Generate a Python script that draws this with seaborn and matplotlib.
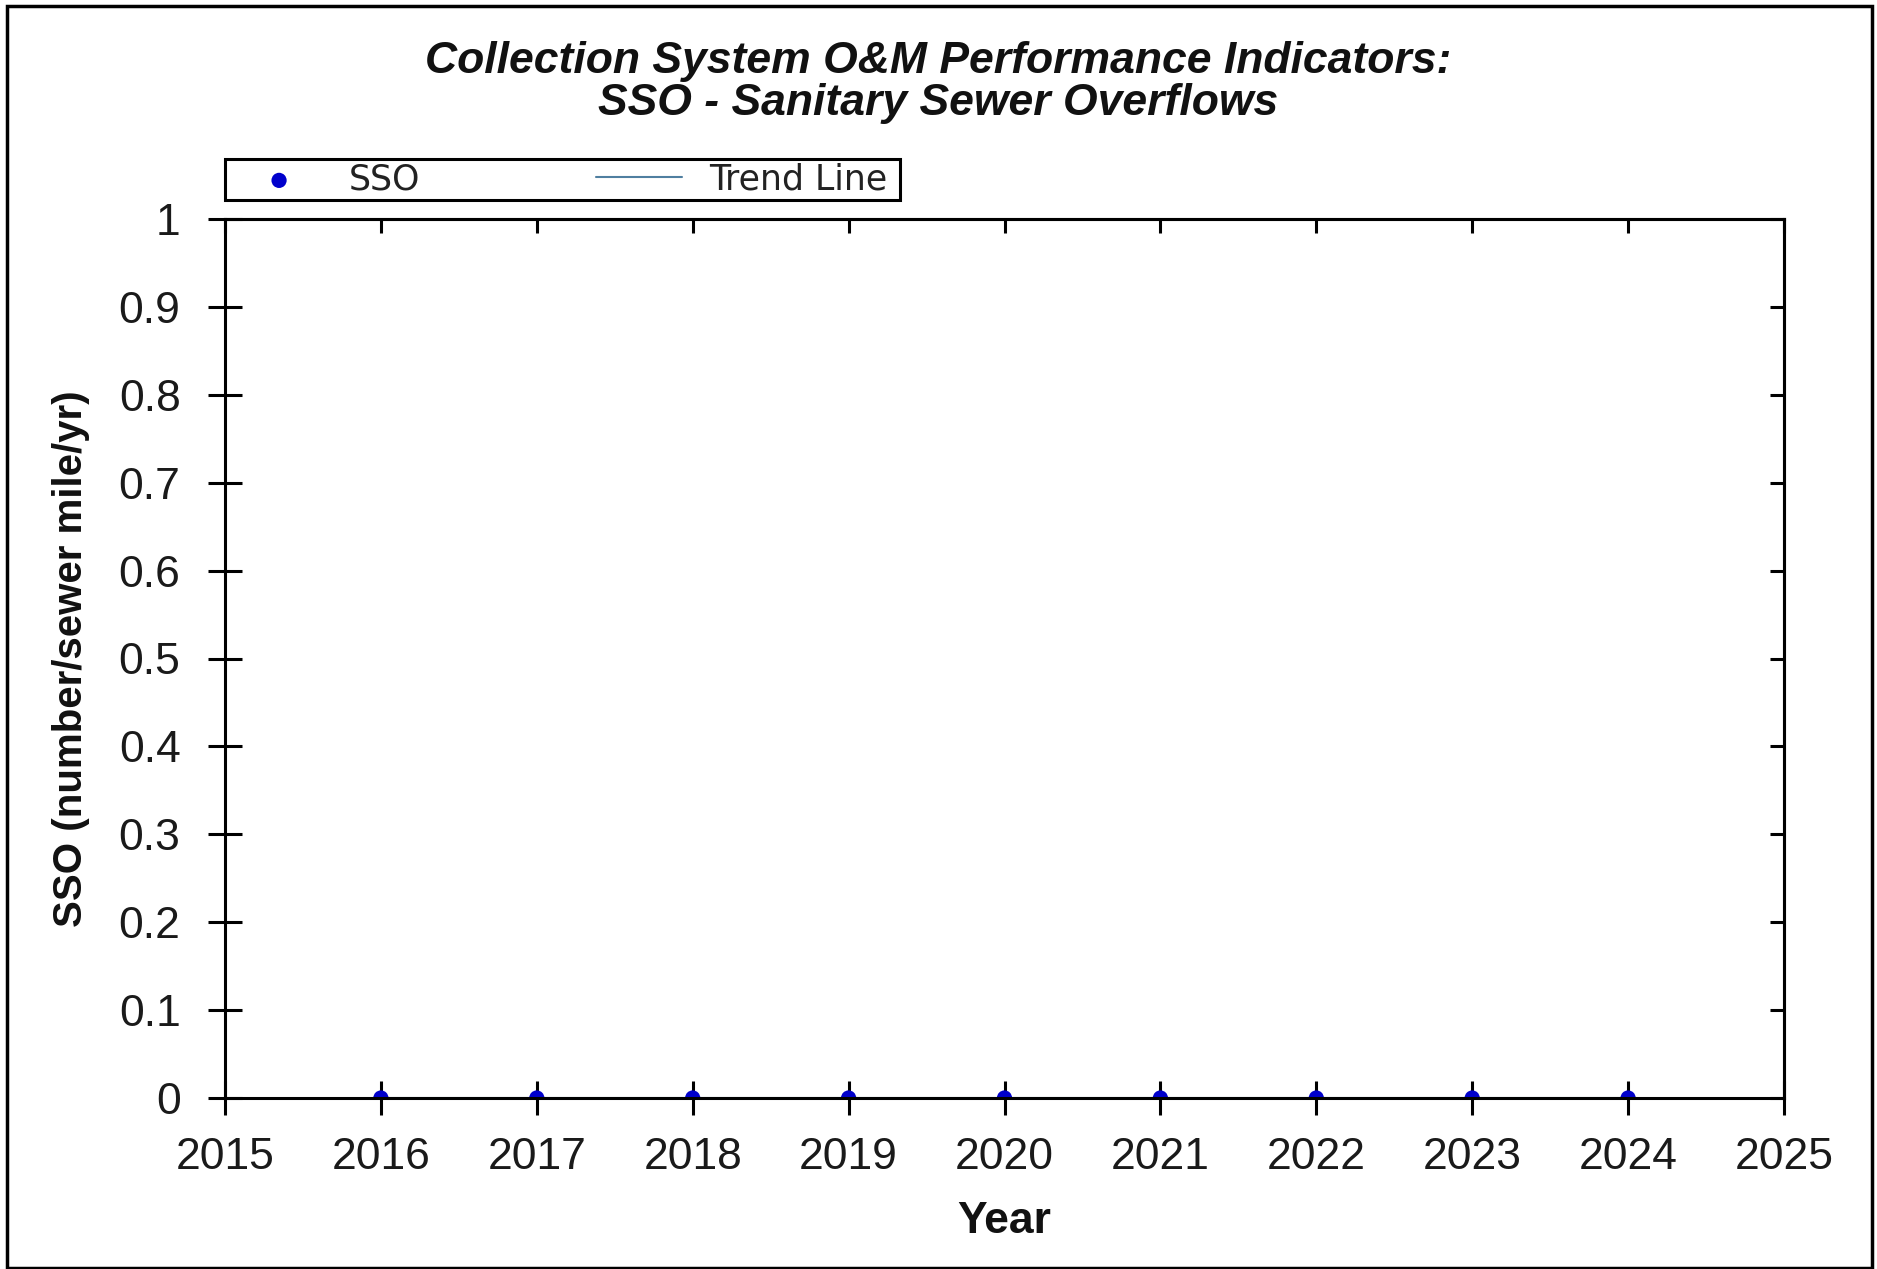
import matplotlib
matplotlib.use("Agg")
import matplotlib.pyplot as plt
import matplotlib.patches as patches
import seaborn as sns
import pandas as pd

# data
years = [2016, 2017, 2018, 2019, 2020, 2021, 2022, 2023, 2024]
sso = [0, 0, 0, 0, 0, 0, 0, 0, 0]
trend = [0, 0, 0, 0, 0, 0, 0, 0, 0]
x_ticks = list(range(2015, 2026))
y_ticks = [0, 0.1, 0.2, 0.3, 0.4, 0.5, 0.6, 0.7, 0.8, 0.9, 1]
y_tick_labels = ["0", "0.1", "0.2", "0.3", "0.4", "0.5", "0.6", "0.7", "0.8", "0.9", "1"]

title = "Collection System O&M Performance Indicators:\nSSO - Sanitary Sewer Overflows"

sns.set_style("ticks")
plt.rcParams['font.family'] = ['Liberation Sans', 'DejaVu Sans']
plt.rcParams['text.color'] = '#111111'
plt.rcParams['axes.labelcolor'] = '#111111'

df = pd.DataFrame({"Year": years, "SSO": sso, "Trend": trend})

W, H = 1877, 1269
fig, ax = plt.subplots(figsize=(W / 100, H / 100), dpi=100)
fig.subplots_adjust(left=225 / W, right=1784 / W, top=1 - 219 / H, bottom=1 - 1098 / H)

sns.lineplot(data=df, x="Year", y="Trend", ax=ax, color="#4f7fa0", linewidth=1.5,
             label="Trend Line", zorder=2)
sns.scatterplot(data=df, x="Year", y="SSO", ax=ax, color="#0000cc", s=120,
                edgecolor="none", label="SSO", zorder=2)
handles, labels = ax.get_legend_handles_labels()
ax.get_legend().remove()

ax.set_xlim(2015, 2025)
ax.set_ylim(0, 1)
ax.set_xticks(x_ticks)
ax.set_xticklabels([str(y) for y in x_ticks])
ax.set_yticks(y_ticks)
ax.set_yticklabels(y_tick_labels)
ax.tick_params(direction="inout", length=24, width=2.2, labelsize=32,
               colors="black", labelcolor="#1a1a1a")
ax.tick_params(axis="x", pad=16)
ax.tick_params(axis="y", pad=20)
for s in ax.spines.values():
    s.set_linewidth(2.2)
    s.set_color("black")
    s.set_visible(True)
    s.set_zorder(3)

# mirrored ticks on top and right, pointing inward
top = ax.secondary_xaxis("top")
top.set_xticks(x_ticks)
top.tick_params(direction="in", length=10, width=2.2, labeltop=False, colors="black")
top.spines["top"].set_linewidth(2.2)
right = ax.secondary_yaxis("right")
right.set_yticks(y_ticks)
right.tick_params(direction="in", length=10, width=2.2, labelright=False, colors="black")
right.spines["right"].set_linewidth(2.2)

ax.set_xlabel("Year", fontsize=32, fontweight="bold", va="baseline")
ax.xaxis.set_label_coords(0.5, (1098 - 1233) / 879)
ax.set_ylabel("SSO (number/sewer mile/yr)", fontsize=29, fontweight="bold", va="center")
ax.yaxis.set_label_coords((71 - 225) / 1559, 0.5)

fig.text(0.5, 1 - 82.5 / H, title, ha="center", va="center", fontsize=32,
         fontstyle="italic", fontweight="bold", linespacing=1.05)

# legend: marker first, then trend line, in a plain box above the plot
order = [labels.index("SSO"), labels.index("Trend Line")]
leg = fig.legend([handles[i] for i in order], [labels[i] for i in order],
                 loc="center", bbox_to_anchor=(236 / W, 1 - 200 / H, 651 / W, 41 / H),
                 mode="expand", ncol=2, frameon=False, borderpad=0,
                 borderaxespad=0, handlelength=2.48, handletextpad=0.78,
                 prop={"family": "DejaVu Sans", "size": 25},
                 labelcolor="#222222")
fig.patches.append(patches.Rectangle((225 / W, 1 - 200 / H), 675 / W, 41 / H,
                                     transform=fig.transFigure, fill=False,
                                     edgecolor="black", linewidth=2.2))

# outer figure border
fig.patches.append(patches.Rectangle((7 / W, 1 / H), (W - 12) / W, (H - 7) / H,
                                     transform=fig.transFigure, fill=False,
                                     edgecolor="black", linewidth=2.5))

fig.savefig("out.png", dpi=100)
